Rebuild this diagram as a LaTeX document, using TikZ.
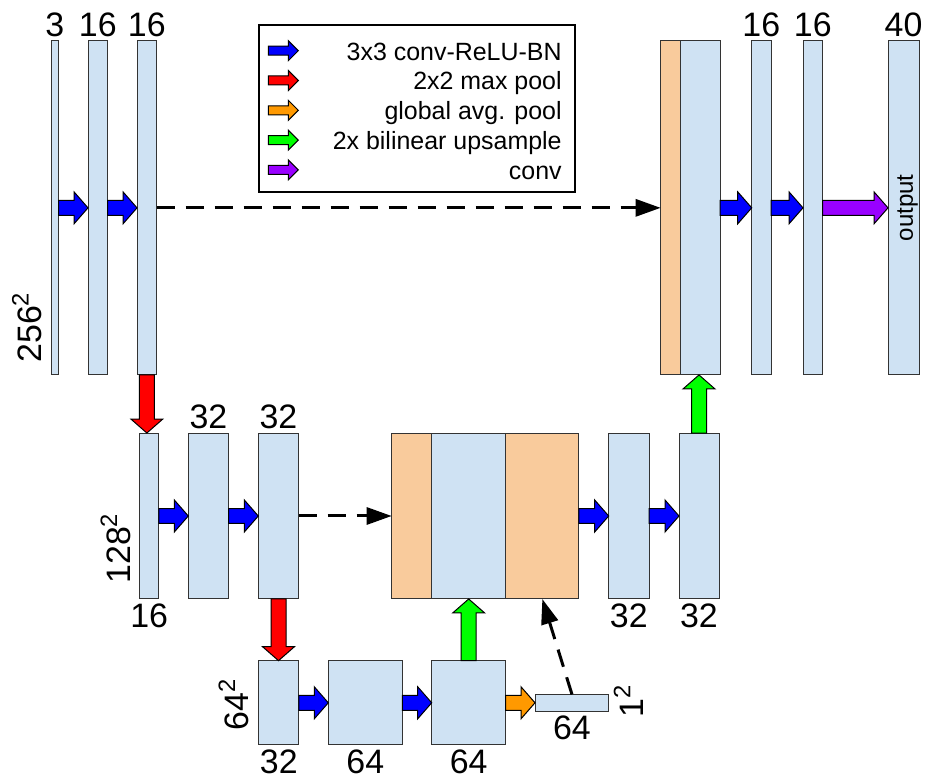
\documentclass[tikz,border=0pt]{standalone}
\usepackage{fontspec}
\setmainfont{Liberation Sans}
\usetikzlibrary{arrows.meta,positioning,calc}
\definecolor{barblue}{RGB}{207,226,243}
\definecolor{barorange}{RGB}{249,203,156}
\definecolor{convblue}{RGB}{0,0,255}
\definecolor{poolred}{RGB}{255,0,0}
\definecolor{avgorange}{RGB}{255,153,0}
\definecolor{upgreen}{RGB}{0,255,0}
\definecolor{outpurple}{RGB}{153,0,255}

\tikzset{
  fatsize/.code n args={3}{\def\fatshaft{#1}\def\fathead{#2}\def\fattip{#3}},
  fat/.style={draw=black, line width=0.02cm, fill=#1, fatsize={0.15cm}{0.32cm}{0.28cm},
    to path={let \p1=(\tikztostart), \p2=(\tikztotarget),
      \n1={atan2(\y2-\y1,\x2-\x1)} in
      ([shift={(\p1)},rotate=\n1]0pt,-\fatshaft)
      -- ([shift={(\p2)},rotate=\n1]-\fattip,-\fatshaft)
      -- ([shift={(\p2)},rotate=\n1]-\fattip,-\fathead)
      -- (\p2)
      -- ([shift={(\p2)},rotate=\n1]-\fattip,\fathead)
      -- ([shift={(\p2)},rotate=\n1]-\fattip,\fatshaft)
      -- ([shift={(\p1)},rotate=\n1]0pt,\fatshaft) -- cycle}},
  legfat/.style={fat=#1, fatsize={0.09cm}{0.2cm}{0.2cm}},
}

\begin{document}
\begin{tikzpicture}[
    x=0.02cm, y=-0.02cm,
    bar/.style={draw=black!80, line width=0.02cm, fill=barblue, inner sep=0pt, outer sep=0pt},
    cat/.style={bar, fill=barorange},
    toprow/.style={minimum height=6.686cm},
    midrow/.style={minimum height=3.32cm},
    lowrow/.style={minimum height=1.686cm},
    num/.style={inner sep=0pt, font=\fontsize{19.3}{23}\selectfont},
    side/.style={num, rotate=90, anchor=south west},
    legtext/.style={inner sep=0pt, anchor=base east, font=\fontsize{14.2}{17}\selectfont},
    skip/.style={line width=0.06cm, dash pattern=on 0.36cm off 0.22cm,
                 -{Triangle[length=0.5cm,width=0.34cm]}}
]
    \useasboundingbox (0,0) rectangle (927,780);

    % full resolution
    \node[bar,toprow,minimum width=0.154cm] (in1) at (54.85,207.85) {};
    \node[bar,toprow,minimum width=0.394cm] (t1) at (97.85,207.85) {};
    \node[bar,toprow,minimum width=0.394cm] (t2) at (146.85,207.85) {};
    \node[cat,toprow,minimum width=0.386cm] (u1o) at (670.35,207.85) {};
    \node[bar,toprow,minimum width=0.8cm] (u1b) at (700,207.85) {};
    \node[bar,toprow,minimum width=0.386cm] (t3) at (761.35,207.85) {};
    \node[bar,toprow,minimum width=0.394cm] (t4) at (812.85,207.85) {};
    \node[bar,toprow,minimum width=0.62cm] (out) at (903.5,207.85) {};
    \node[rotate=90,inner sep=0pt,font=\fontsize{13.7}{16}\selectfont] (outtext)
        at ([xshift=0.08cm]out.center) {output};

    % half resolution
    \node[bar,midrow,minimum width=0.394cm] (m1) at (149.15,516) {};
    \node[bar,midrow,minimum width=0.808cm] (m2) at (208.5,516) {};
    \node[bar,midrow,minimum width=0.808cm] (m3) at (278.5,516) {};
    \node[cat,midrow,minimum width=0.8cm] (u2a) at (411.7,516) {};
    \node[bar,midrow,minimum width=1.48cm] (u2b) at (468.7,516) {};
    \node[cat,midrow,minimum width=1.466cm] (u2c) at (542.35,516) {};
    \node[bar,midrow,minimum width=0.806cm] (m4) at (628.85,516) {};
    \node[bar,midrow,minimum width=0.8cm] (m5) at (699,516) {};

    % quarter resolution
    \node[bar,lowrow,minimum width=0.806cm] (b1) at (278.85,702.8) {};
    \node[bar,lowrow,minimum width=1.48cm] (b2) at (365.3,702.8) {};
    \node[bar,lowrow,minimum width=1.48cm] (b3) at (468.7,702.8) {};
    \node[bar,minimum width=1.48cm,minimum height=0.334cm] (gp) at (572,702.8) {};

    % channel counts
    \node[num,above=0.08cm of in1] {3};
    \node[num,above=0.08cm of t1] {16};
    \node[num,above=0.08cm of t2] {16};
    \node[num,above=0.08cm of t3] {16};
    \node[num,above=0.08cm of t4] {16};
    \node[num,above=0.08cm of out] {40};
    \node[num,above=0.08cm of m2] {32};
    \node[num,above=0.08cm of m3] {32};
    \node[num,below=0.08cm of m1] {16};
    \node[num,below=0.08cm of m4] {32};
    \node[num,below=0.08cm of m5] {32};
    \node[num,below=0.1cm of b1] {32};
    \node[num,below=0.1cm of b2] {64};
    \node[num,below=0.1cm of b3] {64};
    \node[num,below=0.08cm of gp] {64};

    % spatial sizes
    \node[side] (s256) at (42.5,363) {256\textsuperscript{2}};
    \node[side] (s128) at (131,584) {128\textsuperscript{2}};
    \node[side] (s64) at (249,731) {64\textsuperscript{2}};
    \node[side] (s1) at (644,718) {1\textsuperscript{2}};

    % skip connections
    \draw[skip] (t2.east) -- (u1o.west);
    \draw[skip] (m3.east) -- (u2a.west);
    \draw[skip] (gp.north) -- (u2c.south);

    % operations
    \draw[fat=convblue] (in1.east) to (t1.west);
    \draw[fat=convblue] (t1.east) to (t2.west);
    \draw[fat=convblue] (u1b.east) to (t3.west);
    \draw[fat=convblue] (t3.east) to (t4.west);
    \draw[fat=outpurple] (t4.east) to (out.west);
    \draw[fat=poolred] (t2.south) to (t2.south |- m1.north);
    \draw[fat=convblue] (m1.east) to (m2.west);
    \draw[fat=convblue] (m2.east) to (m3.west);
    \draw[fat=convblue] (u2c.east) to (m4.west);
    \draw[fat=convblue] (m4.east) to (m5.west);
    \draw[fat=upgreen] (m5.north) to (m5.north |- u1b.south);
    \draw[fat=poolred] (m3.south) to (m3.south |- b1.north);
    \draw[fat=convblue] (b1.east) to (b2.west);
    \draw[fat=convblue] (b2.east) to (b3.west);
    \draw[fat=avgorange] (b3.east) to (gp.west);
    \draw[fat=upgreen] (b3.north) to (u2b.south);

    % legend
    \node[draw=black,line width=0.028cm,inner sep=0pt,minimum width=6.32cm,
          minimum height=3.34cm] (legend) at (417,108.5) {};
    \foreach \c/\t [count=\i] in {convblue/3x3 conv-ReLU-BN, poolred/2x2 max pool,
        avgorange/global avg. pool, upgreen/2x bilinear upsample, outpurple/conv}{
      \pgfmathsetmacro\ky{50.7+29.8*(\i-1)}
      \coordinate (ka\i) at (268.3,\ky);
      \coordinate (kb\i) at (298.3,\ky);
      \draw[legfat=\c] (ka\i) to (kb\i);
      \node[legtext] (lt\i) at (562,\ky+9.5) {\t};
    }
\end{tikzpicture}
\end{document}
